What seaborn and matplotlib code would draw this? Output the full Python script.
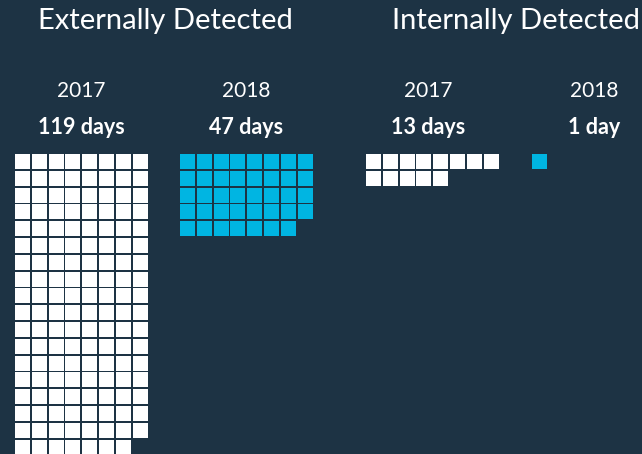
import numpy as np
import pandas as pd
import matplotlib.pyplot as plt
import seaborn as sns

# values
groups = ['Externally Detected', 'Internally Detected']
years = ['2017', '2018', '2017', '2018']
day_labels = ['119 days', '47 days', '13 days', '1 day']
squares = [143, 39, 13, 1]          # squares actually drawn in each block
colors = ['#ffffff', '#00b5e2', '#ffffff', '#00b5e2']

# layout (pixels)
BG = '#1d3344'
block_left = [15, 180, 366, 532]
label_x = [81, 246, 428, 594]
top = 154
pitch = 16.8
cell = 15
ncols = 8

rows = []
for b, n in enumerate(squares):
    for i in range(n):
        r, c = divmod(i, ncols)
        rows.append({'block': b,
                     'x': block_left[b] + c * pitch + cell / 2,
                     'y': top + r * pitch + cell / 2})
df = pd.DataFrame(rows)

sns.set_theme(style='white')
plt.rcParams['font.family'] = ['Lato', 'DejaVu Sans']

fig = plt.figure(figsize=(6.42, 4.54), dpi=100, facecolor=BG)
ax = fig.add_axes([0, 0, 1, 1])
ax.set_facecolor(BG)

side_pt = cell * 72 / 100
sns.scatterplot(data=df, x='x', y='y', hue='block', palette=colors,
                marker='s', s=side_pt ** 2, linewidth=0, legend=False, ax=ax)

ax.set_xlim(0, 642)
ax.set_ylim(454, 0)
ax.axis('off')

# headings
ax.text(165, 21, groups[0], ha='center', va='center', color='white',
        fontsize=21, fontweight='normal')
ax.text(516, 21, groups[1], ha='center', va='center', color='white',
        fontsize=21, fontweight='normal')

for b in range(4):
    ax.text(label_x[b], 91, years[b], ha='center', va='center', color='white',
            fontsize=15, fontweight='normal')
    ax.text(label_x[b], 127, day_labels[b], ha='center', va='center',
            color='white', fontsize=15.5, fontweight='bold')

fig.savefig('out.png', dpi=100, facecolor=BG)
